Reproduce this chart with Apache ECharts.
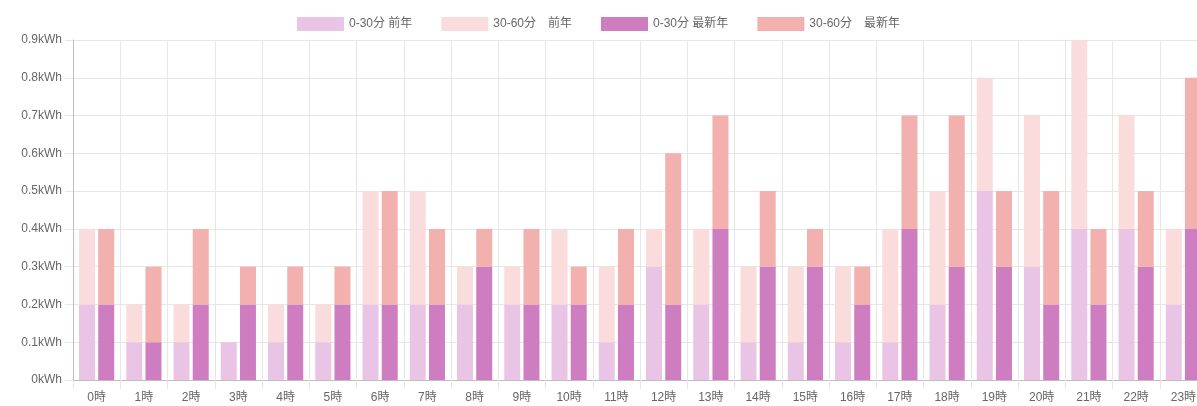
<!DOCTYPE html>
<html>
<head>
<meta charset="utf-8">
<script src="https://cdn.jsdelivr.net/npm/echarts@6/dist/echarts.min.js"></script>
<style>
html,body{margin:0;padding:0;background:#fff;}
#chart{width:1197px;height:406px;}
</style>
</head>
<body>
<div id="chart"></div>
<script>
const categories = ['0時','1時','2時','3時','4時','5時','6時','7時','8時','9時','10時','11時','12時','13時','14時','15時','16時','17時','18時','19時','20時','21時','22時','23時'];
const seriesNames = ['0-30分 前年','30-60分\u3000前年','0-30分 最新年','30-60分\u3000最新年'];
const prevFirstHalf = [0.2,0.1,0.1,0.1,0.1,0.1,0.2,0.2,0.2,0.2,0.2,0.1,0.3,0.2,0.1,0.1,0.1,0.1,0.2,0.5,0.3,0.4,0.4,0.2];
const prevSecondHalf = [0.2,0.1,0.1,0,0.1,0.1,0.3,0.3,0.1,0.1,0.2,0.2,0.1,0.2,0.2,0.2,0.2,0.3,0.3,0.3,0.4,0.5,0.3,0.2];
const latestFirstHalf = [0.2,0.1,0.2,0.2,0.2,0.2,0.2,0.2,0.3,0.2,0.2,0.2,0.2,0.4,0.3,0.3,0.2,0.4,0.3,0.3,0.2,0.2,0.3,0.4];
const latestSecondHalf = [0.2,0.2,0.2,0.1,0.1,0.1,0.3,0.2,0.1,0.2,0.1,0.2,0.4,0.3,0.2,0.1,0.1,0.3,0.4,0.2,0.3,0.2,0.2,0.4];
const yTicks = { min: 0, max: 0.9, interval: 0.1 };

const colors = ['#e9c4e4', '#fadcdc', '#ce7ec0', '#f2b0ae'];
const font = 'Arial, "Liberation Sans", "Noto Sans CJK JP", sans-serif';
const gridColor = '#e6e6e6';

const chart = echarts.init(document.getElementById('chart'));
const dataSets = [prevFirstHalf, prevSecondHalf, latestFirstHalf, latestSecondHalf];
const stacks = ['prev', 'prev', 'latest', 'latest'];

chart.setOption({
  animation: false,
  legend: {
    top: 12,
    left: 'center',
    itemWidth: 47,
    itemHeight: 14,
    itemGap: 29,
    icon: 'rect',
    textStyle: { color: '#666', fontSize: 12, fontFamily: font },
    data: seriesNames
  },
  grid: {
    left: 73, right: -10, top: 40, bottom: 26,
    containLabel: false,
    outerBoundsMode: 'none'
  },
  xAxis: {
    type: 'category',
    data: categories,
    boundaryGap: true,
    axisLine: { show: true, lineStyle: { color: '#bdbdbd', width: 1 } },
    axisTick: { show: true, length: 9, alignWithLabel: false, lineStyle: { color: gridColor } },
    splitLine: { show: true, lineStyle: { color: gridColor } },
    axisLabel: { color: '#666', fontSize: 12, fontFamily: font, margin: 12 }
  },
  yAxis: {
    type: 'value',
    min: yTicks.min, max: yTicks.max, interval: yTicks.interval,
    axisLine: { show: true, lineStyle: { color: '#bdbdbd', width: 1 } },
    axisTick: { show: true, length: 8, lineStyle: { color: gridColor } },
    splitLine: { show: true, lineStyle: { color: gridColor } },
    axisLabel: {
      color: '#666', fontSize: 12, fontFamily: font, margin: 11,
      formatter: v => (Math.round(v * 10) / 10) + 'kWh'
    }
  },
  series: seriesNames.map((name, i) => ({
    name: name,
    type: 'bar',
    stack: stacks[i],
    data: dataSets[i],
    barWidth: 16,
    barGap: '20%',
    itemStyle: { color: colors[i] },
    emphasis: { disabled: true }
  }))
});
</script>
</body>
</html>
